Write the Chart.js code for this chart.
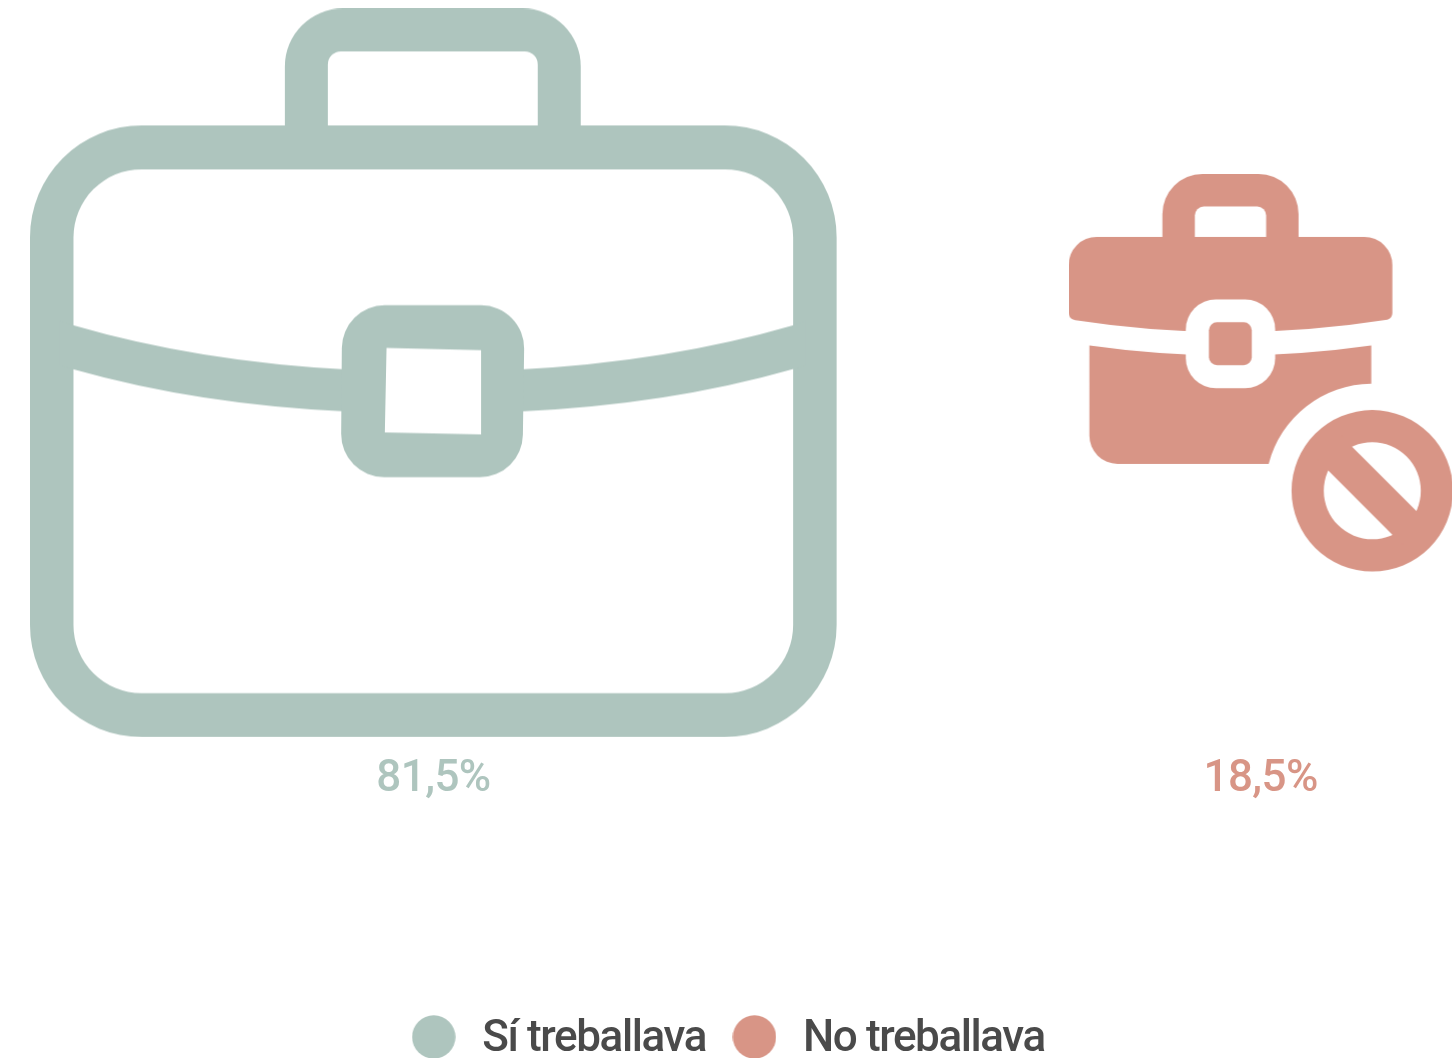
<!DOCTYPE html>
<html lang="ca">
<head>
<meta charset="utf-8">
<title>Sí treballava / No treballava</title>
<script src="https://cdn.jsdelivr.net/npm/chart.js@4"></script>
<style>
html,body{margin:0;padding:0;background:#fff;overflow:hidden}
#wrap{width:1452px;height:1058px;overflow:hidden}
canvas{display:block}
</style>
</head>
<body>
<div id="wrap"><canvas id="c" width="1452" height="1058"></canvas></div>
<script>
const categories = ['Sí treballava', 'No treballava'];
const shares = [81.5, 18.5];
const colours = ['#aec5be', '#d89586'];
const textColour = '#4a4a4a';
const FONT = 'Roboto, sans-serif';
const K = 89.35; // icon width per sqrt(percent): area is proportional to the share

function rr(p, pts, r) {
  const n = pts.length;
  const m = [(pts[0][0] + pts[1][0]) / 2, (pts[0][1] + pts[1][1]) / 2];
  p.moveTo(m[0], m[1]);
  for (let i = 1; i <= n; i++) {
    const a = pts[i % n], b = pts[(i + 1) % n];
    p.arcTo(a[0], a[1], b[0], b[1], r);
  }
  p.closePath();
}
function box(p, x0, y0, x1, y1, r) { rr(p, [[x0, y0], [x1, y0], [x1, y1], [x0, y1]], r); }

function drawWorking(g) {
  const h = new Path2D();
  h.moveTo(285, 140);
  h.lineTo(285, 66);
  h.arcTo(285, 8, 343, 8, 58);
  h.lineTo(523, 8);
  h.arcTo(581, 8, 581, 66, 58);
  h.lineTo(581, 140);
  h.closePath();
  g.fill(h);
  g.globalCompositeOperation = 'destination-out';
  const hole = new Path2D();
  box(hole, 328, 51, 538, 150, 13);
  g.fill(hole);
  g.globalCompositeOperation = 'source-over';
  const b = new Path2D();
  box(b, 30, 125, 837, 737, 112);
  box(b, 73.5, 169, 793.5, 693, 68);
  g.fill(b, 'evenodd');
  const s = new Path2D();
  s.moveTo(60, 321);
  s.lineTo(73, 325);
  s.quadraticCurveTo(200, 362, 350, 369.5);
  s.lineTo(350, 411.5);
  s.quadraticCurveTo(200, 405, 73, 369);
  s.lineTo(60, 365);
  s.closePath();
  s.moveTo(806, 321);
  s.lineTo(794, 325);
  s.quadraticCurveTo(667, 362, 517, 369.5);
  s.lineTo(517, 411.5);
  s.quadraticCurveTo(667, 405, 793, 369);
  s.lineTo(806, 365);
  s.closePath();
  g.fill(s);
  const q = new Path2D();
  rr(q, [[342.3, 305], [525, 305], [522.5, 477], [341, 477]], 43);
  q.moveTo(386.7, 347.7);
  q.lineTo(481.3, 350);
  q.lineTo(481.3, 434.3);
  q.lineTo(385, 432.3);
  q.closePath();
  g.fill(q, 'evenodd');
}

function drawNotWorking(g) {
  const cx = 1371.7, cy = 489.8;
  const h = new Path2D();
  h.moveTo(1162.7, 250);
  h.lineTo(1162.7, 214);
  h.arcTo(1162.7, 174.3, 1202, 174.3, 40);
  h.lineTo(1259, 174.3);
  h.arcTo(1298.3, 174.3, 1298.3, 214, 40);
  h.lineTo(1298.3, 250);
  h.closePath();
  g.fill(h);
  g.globalCompositeOperation = 'destination-out';
  const hh = new Path2D();
  box(hh, 1195, 206.7, 1266, 250, 9);
  g.fill(hh);
  g.globalCompositeOperation = 'source-over';
  const top = new Path2D();
  top.moveTo(1097, 237);
  top.lineTo(1364, 237);
  top.arcTo(1391.7, 237, 1391.7, 265, 28);
  top.lineTo(1391.7, 311);
  top.arcTo(1391.7, 318, 1385, 320, 7);
  top.quadraticCurveTo(1230.5, 344, 1076, 320);
  top.arcTo(1069.3, 318, 1069.3, 311, 7);
  top.lineTo(1069.3, 265);
  top.arcTo(1069.3, 237, 1097, 237, 28);
  top.closePath();
  g.fill(top);
  const low = new Path2D();
  low.moveTo(1090, 345);
  low.quadraticCurveTo(1230.5, 365, 1370.7, 345);
  low.lineTo(1370.7, 383.3);
  low.arc(cx, cy, 106.6, -Math.PI / 2 - 0.01, Math.PI + 0.254, true);
  low.lineTo(1118, 463);
  low.arcTo(1090, 463, 1090, 435, 28);
  low.closePath();
  g.fill(low);
  g.globalCompositeOperation = 'destination-out';
  const ring = new Path2D();
  box(ring, 1186, 299.3, 1275, 387.7, 30);
  g.fill(ring);
  g.globalCompositeOperation = 'source-over';
  const inner = new Path2D();
  box(inner, 1209, 322, 1251.7, 364.7, 8);
  g.fill(inner);
  const disc = new Path2D();
  disc.arc(cx, cy, 80.4, 0, Math.PI * 2);
  disc.moveTo(cx + 48.3, cy);
  disc.arc(cx, cy, 48.3, 0, Math.PI * 2);
  g.fill(disc, 'evenodd');
  g.strokeStyle = g.fillStyle;
  g.lineWidth = 33.5;
  g.beginPath();
  g.moveTo(cx - 42, cy - 42);
  g.lineTo(cx + 42, cy + 42);
  g.stroke();
}

const iconSpecs = [
  { draw: drawWorking, x0: 30, y0: 8, w: 807, h: 729 },
  { draw: drawNotWorking, x0: 1069.3, y0: 174.3, w: 382.7, h: 396.5 }
];

function makeIcon(i) {
  const spec = iconSpecs[i];
  const width = K * Math.sqrt(shares[i]);
  const s = width / spec.w;
  const c = document.createElement('canvas');
  c.width = Math.round(width);
  c.height = Math.round(spec.h * s);
  const g = c.getContext('2d');
  g.fillStyle = colours[i];
  g.scale(s, s);
  g.translate(-spec.x0, -spec.y0);
  spec.draw(g);
  return c;
}
function makeDot(colour) {
  const c = document.createElement('canvas');
  c.width = 44; c.height = 50; // the disc sits 3px above the centre, level with the text
  const g = c.getContext('2d');
  g.fillStyle = colour;
  g.beginPath();
  g.arc(22, 22, 21.7, 0, Math.PI * 2);
  g.fill();
  return c;
}

const icons = categories.map((_, i) => makeIcon(i));
const dots = colours.map(makeDot);

const LEGEND_TRACKING = '-1.4px';
const valueLabels = {
  id: 'valueLabels',
  beforeUpdate(chart) { chart.ctx.letterSpacing = LEGEND_TRACKING; },
  beforeDraw(chart) { chart.ctx.letterSpacing = LEGEND_TRACKING; },
  afterDatasetsDraw(chart) {
    const g = chart.ctx;
    g.save();
    g.letterSpacing = '-0.6px';
    g.font = '500 44px ' + FONT;
    g.textAlign = 'center';
    g.textBaseline = 'alphabetic';
    chart.data.datasets.forEach((ds, i) => {
      const el = chart.getDatasetMeta(i).data[0];
      g.fillStyle = colours[i];
      g.fillText(shares[i].toFixed(1).replace('.', ',') + '%', el.x, el.y + 418);
    });
    g.restore();
  }
};

new Chart(document.getElementById('c'), {
  type: 'scatter',
  data: {
    datasets: categories.map((label, i) => ({
      label,
      data: [{ x: i, y: 0, share: shares[i] }],
      pointStyle: icons[i],
      pointRadius: icons[i].width / 2,
      pointHoverRadius: icons[i].width / 2,
      backgroundColor: colours[i],
      borderColor: colours[i],
      clip: false
    }))
  },
  options: {
    responsive: false,
    animation: false,
    layout: { autoPadding: false, padding: { top: 0, left: 0, right: 0, bottom: -14 } },
    scales: {
      x: { type: 'linear', display: false, min: -0.5241, max: 1.2314 },
      y: { type: 'linear', display: false, min: -1.671, max: 1 }
    },
    plugins: {
      tooltip: { enabled: false },
      legend: {
        display: true,
        position: 'bottom',
        labels: {
          usePointStyle: true,
          pointStyleWidth: 53,
          padding: 22,
          color: textColour,
          font: { family: FONT, size: 44, weight: '500' },
          generateLabels: (chart) => chart.data.datasets.map((ds, i) => ({
            text: ds.label,
            datasetIndex: i,
            fillStyle: colours[i],
            strokeStyle: colours[i],
            lineWidth: 0,
            fontColor: textColour,
            pointStyle: dots[i]
          }))
        }
      }
    }
  },
  plugins: [valueLabels]
});
</script>
</body>
</html>
